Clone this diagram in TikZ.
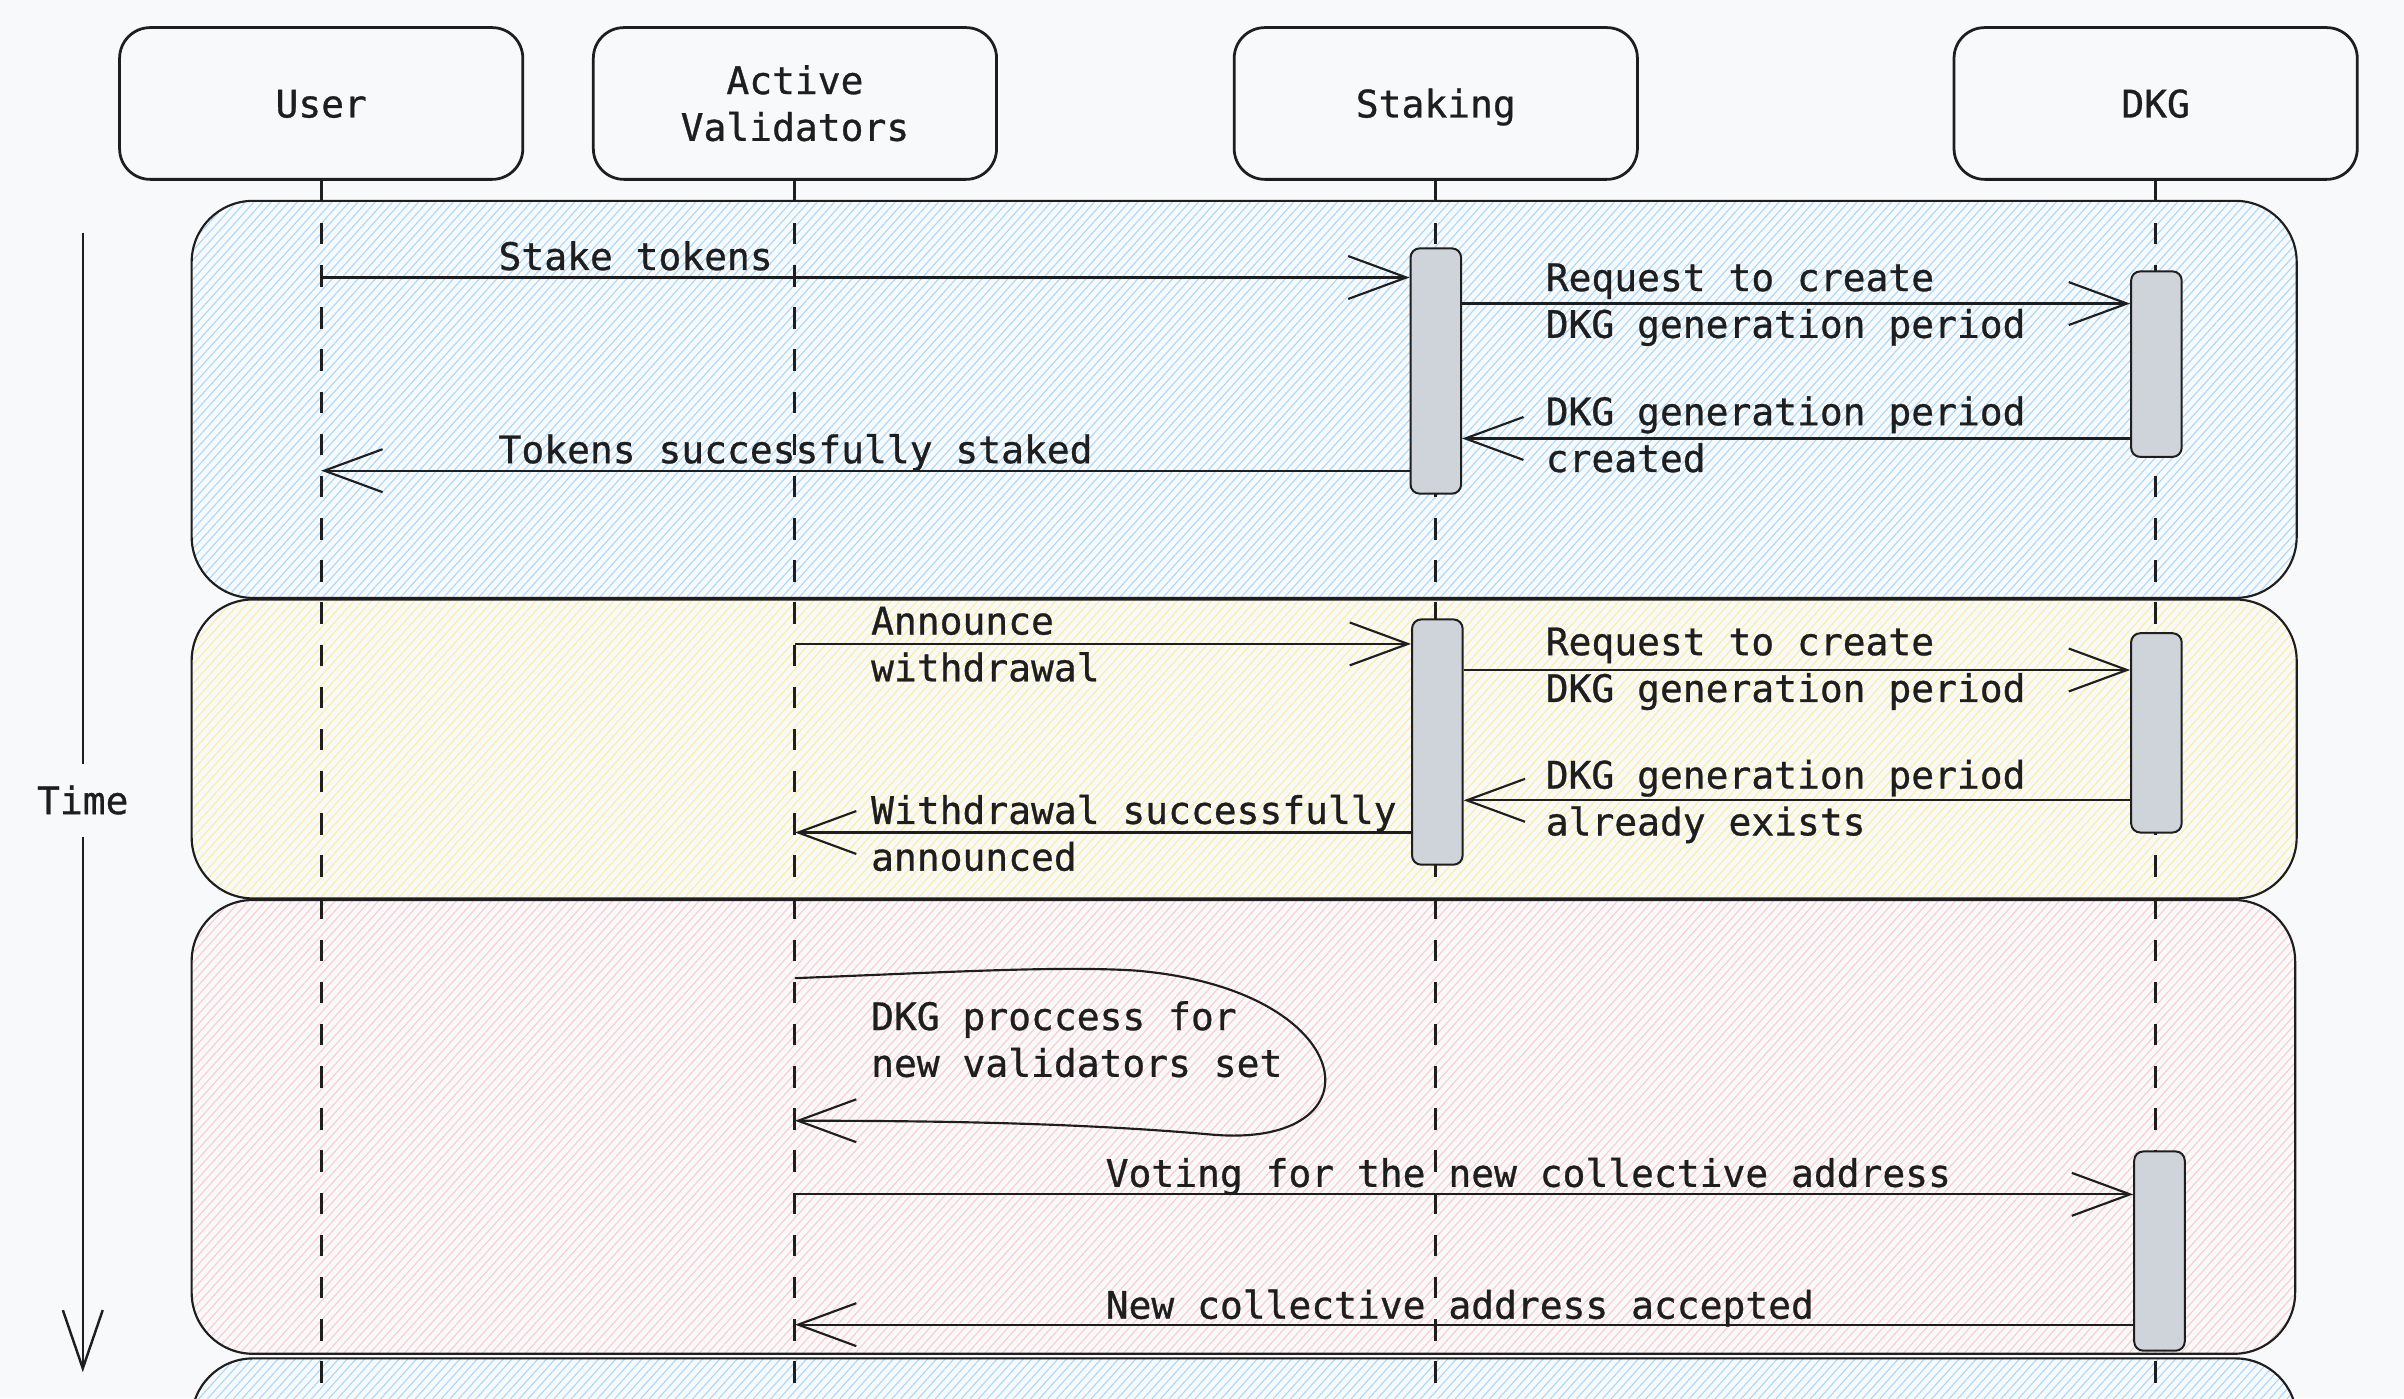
\documentclass[tikz,border=0pt]{standalone}
\usepackage{fontspec}
\newfontfamily\lblff[FakeBold=0.8]{DejaVu Sans Mono}
\usetikzlibrary{arrows.meta,patterns.meta}
\definecolor{bgc}{HTML}{F8F9FA}
\definecolor{ink}{HTML}{1E1E1E}
\definecolor{actfill}{HTML}{CED4DA}
\definecolor{hblue}{HTML}{A5D8FF}
\definecolor{hyellow}{HTML}{FFEC99}
\definecolor{hred}{HTML}{FFC9C9}
\newcommand\lblfont{\lblff\fontsize{24.75}{30.5}\selectfont}
\newcommand\tstrut{\rule[-9.15pt]{0pt}{36.5pt}}
\tikzset{
  actor/.style={draw=ink, line width=1.8pt, rounded corners=20pt, fill=bgc, minimum width=263pt, minimum height=99pt, inner sep=0pt, align=center, font=\lblfont, text=ink},
  actbox/.style={draw=ink, line width=1.3pt, rounded corners=6pt, fill=actfill, minimum width=33pt, inner sep=0pt},
  grp/.style={draw=ink, line width=1.4pt, rounded corners=40pt},
  lifeline/.style={draw=ink, line width=2pt, dash pattern=on 14pt off 13.5pt},
  msg/.style={draw=ink, line width=1.4pt, -{Straight Barb[length=38pt,width=28pt]}},
  lbl/.style={anchor=west, inner sep=0pt, align=left, font=\lblfont, text=ink},
  hatch/.style={pattern={Lines[angle=48,distance=4.2pt,line width=0.7pt]}, pattern color=#1},
}
\begin{document}
\begin{tikzpicture}[x=1pt,y=-1pt]
\useasboundingbox (0,0) rectangle (1568,912);
\fill[bgc] (0,0) rectangle (1568,912);
\clip (0,0) rectangle (1568,912);

% groups
\draw[grp, hatch=hblue] (125,131) rectangle (1498,390);
\draw[grp, hatch=hyellow] (125,391) rectangle (1498,586);
\draw[grp, hatch=hred] (125,587) rectangle (1497,883);
\draw[grp, hatch=hblue] (125,886) rectangle (1498,1000);

% actors
\node[actor] (User) at (209.5,67.5) {\tstrut User};
\node[actor] (AV) at (518.5,67.5) {\tstrut Active\\\strut Validators};
\node[actor] (Staking) at (936.5,67.5) {\tstrut Staking};
\node[actor] (DKG) at (1406,67.5) {\tstrut DKG};

% lifelines
\draw[lifeline] (User.south) -- (User.south |- 0,912);
\draw[lifeline] (AV.south) -- (AV.south |- 0,912);
\draw[lifeline] (Staking.south) -- (Staking.south |- 0,912);
\draw[lifeline] (DKG.south) -- (DKG.south |- 0,912);

% time axis
\node[font=\lblfont, text=ink, inner sep=0pt, text height=18pt, text depth=0pt, minimum height=47pt] (Time) at (54,522) {Time};
\coordinate (ttop) at (54,152);
\coordinate (tbot) at (54,895);
\draw[ink, line width=1.6pt] (ttop) -- (Time.north);
\draw[ink, line width=1.6pt, -{Straight Barb[length=38pt,width=26pt]}] (Time.south) -- (tbot);

% activation boxes
\node[actbox, minimum height=160pt] (a1) at (936.5,242) {};
\node[actbox, minimum height=121pt] (a2) at (1406.5,237.5) {};
\node[actbox, minimum height=160pt] (a3) at (937.5,484) {};
\node[actbox, minimum height=130pt] (a4) at (1406.5,478) {};
\node[actbox, minimum height=130pt] (a5) at (1408.5,816) {};

% messages
\draw[msg] (User |- 0,181) -- (a1.west |- 0,181);
\draw[msg] (a1.east |- 0,198) -- (a2.west |- 0,198);
\draw[msg] (a2.west |- 0,286) -- (a1.east |- 0,286);
\draw[msg] (a1.west |- 0,307) -- (User |- 0,307);
\draw[msg] (AV |- 0,420) -- (a3.west |- 0,420);
\draw[msg] (a3.east |- 0,437) -- (a4.west |- 0,437);
\draw[msg] (a4.west |- 0,522) -- (a3.east |- 0,522);
\draw[msg] (a3.west |- 0,543) -- (AV |- 0,543);
\draw[msg] (AV |- 0,638) .. controls (620,634) and (690,630) .. (740,633)
   .. controls (888,645) and (903,750) .. (790,740)
   .. controls (700,732) and (600,731) .. (AV |- 0,731);
\draw[msg] (AV |- 0,779) -- (a5.west |- 0,779);
\draw[msg] (a5.west |- 0,864) -- (AV |- 0,864);

% labels
\node[lbl] (l1) at (325,167) {\tstrut Stake tokens};
\node[lbl] (l2) at (1008,196) {\tstrut Request to create\\\strut DKG generation period};
\node[lbl] (l3) at (1008,283.5) {\tstrut DKG generation period\\\strut created};
\node[lbl] (l4) at (325,293) {\tstrut Tokens successfully staked};
\node[lbl] (l5) at (568,420) {\tstrut Announce\\\strut withdrawal};
\node[lbl] (l6) at (1008,433.5) {\tstrut Request to create\\\strut DKG generation period};
\node[lbl] (l7) at (1008,520.5) {\tstrut DKG generation period\\\strut already exists};
\node[lbl] (l8) at (568,543.5) {\tstrut Withdrawal successfully\\\strut announced};
\node[lbl] (l9) at (568,678) {\tstrut DKG proccess for\\\strut new validators set};
\node[lbl] (l10) at (721,765) {\tstrut Voting for the new collective address};
\node[lbl] (l11) at (721,851) {\tstrut New collective address accepted};
\end{tikzpicture}
\end{document}
